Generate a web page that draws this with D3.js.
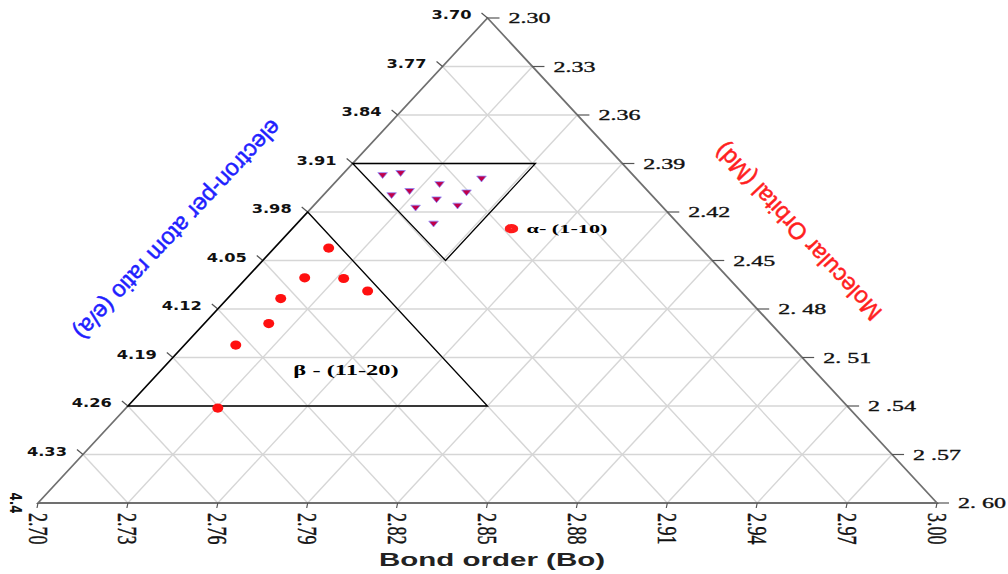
<!DOCTYPE html>
<html>
<head>
<meta charset="utf-8">
<script src="https://cdn.jsdelivr.net/npm/d3@7"></script>
<style>
body { margin: 0; background: #fff; }
</style>
</head>
<body>
<script>
var w = 1008;
var h = 574;

// axis ticks
var boTicks = [2.70, 2.73, 2.76, 2.79, 2.82, 2.85, 2.88, 2.91, 2.94, 2.97, 3.00];
var boLabels = ["2.70", "2.73", "2.76", "2.79", "2.82", "2.85", "2.88", "2.91", "2.94", "2.97", "3.00"];
var eaTicks = [3.70, 3.77, 3.84, 3.91, 3.98, 4.05, 4.12, 4.19, 4.26, 4.33];
var eaLabels = ["3.70", "3.77", "3.84", "3.91", "3.98", "4.05", "4.12", "4.19", "4.26", "4.33"];
var mdTicks = [2.30, 2.33, 2.36, 2.39, 2.42, 2.45, 2.48, 2.51, 2.54, 2.57, 2.60];
var mdLabels = ["2.30", "2.33", "2.36", "2.39", "2.42", "2.45", "2. 48", "2. 51", "2 .54", "2 .57", "2. 60"];

// alpha phase points (Bo, e/a)
var alphaBo = [2.815, 2.821, 2.848, 2.834, 2.818, 2.824, 2.843, 2.833, 2.840, 2.826, 2.832];
var alphaEa = [3.926, 3.923, 3.931, 3.939, 3.955, 3.949, 3.951, 3.961, 3.970, 3.973, 3.996];

// beta phase points (Bo, e/a)
var betaBo = [2.797, 2.789, 2.802, 2.810, 2.781, 2.777, 2.766, 2.760];
var betaEa = [4.032, 4.075, 4.076, 4.094, 4.105, 4.141, 4.172, 4.263];

// phase regions
var alphaRegionBo = [2.805, 2.866, 2.836];
var alphaRegionEa = [3.91, 3.91, 4.05];
var betaRegionBo = [2.79, 2.73, 2.85];
var betaRegionEa = [3.98, 4.26, 4.26];

var xScale = d3.scaleLinear().domain([2.70, 3.00]).range([38, 937]);
var yScale = d3.scaleLinear().domain([3.70, 4.40]).range([18, 503]);
var mdScale = d3.scaleLinear().domain([2.30, 2.60]).range([18, 503]);
var frac = d3.scaleLinear().domain([3.70, 4.40]).range([0, 1]);

function leftBo(ea) { return 2.70 + 0.15 * (1 - frac(ea)); }
function rightBo(ea) { return 2.85 + 0.15 * frac(ea); }

var svg = d3.select("body")
    .append("svg")
    .attr("width", w)
    .attr("height", h);

// grid: horizontal + two diagonal families
var grid = [];
eaTicks.slice(1).forEach(function(ea) {
    grid.push([leftBo(ea), ea, rightBo(ea), ea]);
});
boTicks.slice(1, -1).forEach(function(b) {
    var u = (b - 2.70) / 0.30;
    var eaA = 3.70 + 0.70 * u;
    var eaB = 3.70 + 0.70 * (1 - u);
    grid.push([b, 4.40, rightBo(eaA), eaA]);
    grid.push([b, 4.40, leftBo(eaB), eaB]);
});

svg.selectAll(".grid")
    .data(grid)
    .enter()
    .append("line")
    .attr("class", "grid")
    .attr("x1", function(d) { return xScale(d[0]); })
    .attr("y1", function(d) { return yScale(d[1]); })
    .attr("x2", function(d) { return xScale(d[2]); })
    .attr("y2", function(d) { return yScale(d[3]); })
    .attr("stroke", "#d6d6d6")
    .attr("stroke-width", 1.4);

// outer triangle
var outer = [[2.85, 3.70], [3.00, 4.40], [2.70, 4.40]];
svg.append("path")
    .attr("d", "M" + outer.map(function(p) { return xScale(p[0]) + "," + yScale(p[1]); }).join("L") + "Z")
    .attr("fill", "none")
    .attr("stroke", "#707070")
    .attr("stroke-width", 1.8);

// left axis ticks (e/a)
svg.selectAll(".ltick")
    .data(eaTicks)
    .enter()
    .append("line")
    .attr("x1", function(d) { return xScale(leftBo(d)); })
    .attr("y1", function(d) { return yScale(d); })
    .attr("x2", function(d) { return xScale(leftBo(d)) - 6; })
    .attr("y2", function(d) { return yScale(d) - 5; })
    .attr("stroke", "#555")
    .attr("stroke-width", 1.2);

svg.selectAll(".llabel")
    .data(eaTicks)
    .enter()
    .append("text")
    .attr("transform", function(d) {
        return "translate(" + (xScale(leftBo(d)) - 16) + "," + (yScale(d) - 3) + ") scale(1.3,1)";
    })
    .attr("text-anchor", "end")
    .attr("dy", "0.35em")
    .style("font-family", "DejaVu Sans")
    .style("font-weight", "bold")
    .style("font-size", "12.5px")
    .attr("fill", "#111")
    .text(function(d, i) { return eaLabels[i]; });

svg.append("text")
    .attr("transform", "translate(15,503) rotate(90) scale(1,1.3)")
    .attr("text-anchor", "middle")
    .attr("dy", "0.35em")
    .style("font-family", "DejaVu Sans")
    .style("font-weight", "bold")
    .style("font-size", "12px")
    .attr("fill", "#111")
    .text("4.4");

// right axis ticks (Md)
svg.selectAll(".rtick")
    .data(mdTicks)
    .enter()
    .append("line")
    .attr("x1", function(d) { return xScale(rightBo(yScale.invert(mdScale(d)))); })
    .attr("y1", function(d) { return mdScale(d); })
    .attr("x2", function(d) { return xScale(rightBo(yScale.invert(mdScale(d)))) + 12; })
    .attr("y2", function(d) { return mdScale(d); })
    .attr("stroke", "#555")
    .attr("stroke-width", 1.2);

svg.selectAll(".rlabel")
    .data(mdTicks)
    .enter()
    .append("text")
    .attr("transform", function(d) {
        return "translate(" + (xScale(rightBo(yScale.invert(mdScale(d)))) + 21) + "," + mdScale(d) + ") scale(1.55,1)";
    })
    .attr("dy", "0.35em")
    .style("font-family", "Liberation Serif")
    .style("font-size", "15.5px")
    .attr("fill", "#111")
    .attr("stroke", "#111")
    .attr("stroke-width", 0.35)
    .text(function(d, i) { return mdLabels[i]; });

// bottom axis ticks (Bo)
svg.selectAll(".btick")
    .data(boTicks)
    .enter()
    .append("line")
    .attr("x1", function(d) { return xScale(d); })
    .attr("y1", 503)
    .attr("x2", function(d) { return xScale(d) - 1; })
    .attr("y2", 508)
    .attr("stroke", "#555")
    .attr("stroke-width", 1.2);

svg.selectAll(".blabel")
    .data(boTicks)
    .enter()
    .append("text")
    .attr("transform", function(d) {
        return "translate(" + xScale(d) + ",513) scale(1.5,1) rotate(90)";
    })
    .attr("dy", "0.35em")
    .style("font-family", "Liberation Serif")
    .style("font-size", "18px")
    .attr("fill", "#111")
    .attr("stroke", "#111")
    .attr("stroke-width", 0.3)
    .text(function(d, i) { return boLabels[i]; });

// phase regions
function regionPath(bo, ea) {
    return "M" + bo.map(function(b, i) { return xScale(b) + "," + yScale(ea[i]); }).join("L") + "Z";
}
svg.append("path")
    .attr("d", regionPath(alphaRegionBo, alphaRegionEa))
    .attr("fill", "none")
    .attr("stroke", "#000")
    .attr("stroke-width", 1.3);
svg.append("path")
    .attr("d", regionPath(betaRegionBo, betaRegionEa))
    .attr("fill", "none")
    .attr("stroke", "#000")
    .attr("stroke-width", 1.3);

// alpha points (down triangles)
var tri = d3.symbol().type(d3.symbolTriangle).size(40);
svg.selectAll(".alpha")
    .data(alphaBo)
    .enter()
    .append("path")
    .attr("d", tri)
    .attr("transform", function(d, i) {
        return "translate(" + xScale(d) + "," + yScale(alphaEa[i]) + ") scale(1,0.7) rotate(180)";
    })
    .attr("fill", "#c0004a")
    .attr("stroke", "#8a86ff")
    .attr("stroke-width", 0.9);

// beta points
svg.selectAll(".beta")
    .data(betaBo)
    .enter()
    .append("ellipse")
    .attr("cx", function(d) { return xScale(d); })
    .attr("cy", function(d, i) { return yScale(betaEa[i]); })
    .attr("rx", 5.5)
    .attr("ry", 4.6)
    .attr("fill", "#ff1010");

// labels
svg.append("ellipse")
    .attr("cx", xScale(2.858))
    .attr("cy", yScale(4.004))
    .attr("rx", 4.5)
    .attr("ry", 2.4)
    .attr("fill", "#fff")
    .attr("stroke", "#ff1a1a")
    .attr("stroke-width", 4.5);

svg.append("text")
    .attr("transform", "translate(" + xScale(2.863) + "," + yScale(4.004) + ") scale(1.65,1)")
    .attr("dy", "0.35em")
    .style("font-family", "Liberation Serif")
    .style("font-weight", "bold")
    .style("font-size", "13.5px")
    .text("α- (1-10)");

svg.append("text")
    .attr("transform", "translate(" + xScale(2.8028) + "," + yScale(4.208) + ") scale(1.75,1)")
    .attr("text-anchor", "middle")
    .attr("dy", "0.35em")
    .style("font-family", "Liberation Serif")
    .style("font-weight", "bold")
    .style("font-size", "14px")
    .text("β - (11-20)");

// axis titles
svg.append("text")
    .attr("transform", "translate(492,560) scale(1.64,1)")
    .attr("text-anchor", "middle")
    .attr("dy", "0.35em")
    .style("font-family", "Liberation Sans")
    .style("font-weight", "bold")
    .style("font-size", "18px")
    .attr("fill", "#222")
    .text("Bond order (Bo)");

svg.append("text")
    .attr("transform", "translate(178,230) rotate(133)")
    .attr("text-anchor", "middle")
    .attr("dy", "0.35em")
    .style("font-family", "Liberation Sans")
    .style("font-size", "23.5px")
    .attr("fill", "#1f1fff")
    .attr("stroke", "#1f1fff")
    .attr("stroke-width", 0.5)
    .text("electron-per atom ratio (e/a)");

svg.append("text")
    .attr("transform", "translate(798,232) rotate(-133)")
    .attr("text-anchor", "middle")
    .attr("dy", "0.35em")
    .style("font-family", "Liberation Sans")
    .style("font-size", "23.5px")
    .attr("fill", "#ff1f1f")
    .attr("stroke", "#ff1f1f")
    .attr("stroke-width", 0.5)
    .text("Molecular Orbital (Md)");
</script>
</body>
</html>
